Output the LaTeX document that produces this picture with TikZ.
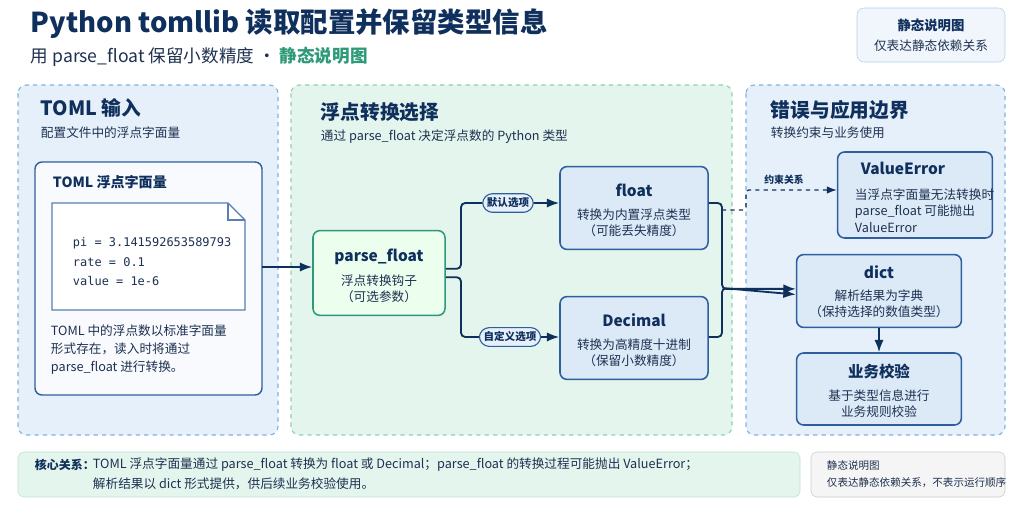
\documentclass[tikz,border=0pt]{standalone}
\usepackage{fontspec}
\setmainfont{Noto Sans CJK SC}
\setmonofont{DejaVu Sans Mono}
\usetikzlibrary{arrows.meta,positioning}
\definecolor{navy}{HTML}{0F2F5C}
\definecolor{edge}{HTML}{2F5E9E}
\definecolor{bluefill}{HTML}{E6F0FA}
\definecolor{greenfill}{HTML}{E4F5EE}
\definecolor{greenedge}{HTML}{2E9A78}
\definecolor{panelblue}{HTML}{7FB2DE}
\definecolor{panelgreen}{HTML}{8FCFB8}
\definecolor{boxfill}{HTML}{DCEAF8}
\definecolor{txt}{HTML}{1E3150}
\tikzset{
  panel/.style={draw, dashed, rounded corners=6pt, line width=0.8pt},
  card/.style={draw=edge, rounded corners=5pt, line width=1.1pt, fill=boxfill},
  head/.style={font=\bfseries\fontsize{11}{13}\selectfont, text=navy},
  body/.style={font=\fontsize{9}{11.5}\selectfont, text=txt, align=center},
  pill/.style={draw=edge, rounded corners=7pt, fill=bluefill, line width=0.8pt,
    font=\bfseries\fontsize{7.5}{9}\selectfont, text=navy, inner sep=3pt},
  link/.style={draw=navy, line width=1.3pt, -Latex, rounded corners=3pt},
}
\begin{document}
\begin{tikzpicture}[x=0.025cm, y=-0.025cm]
		\useasboundingbox (0,0) rectangle (1024,512);
		\fill[white] (0,0) rectangle (1024,512);
		
		% title
		\node[anchor=west, font=\bfseries\fontsize{19.5}{22}\selectfont, text=navy] (title) at (26,24) {Python tomllib 读取配置并保留类型信息};
		\node[anchor=west, font=\fontsize{12.5}{15}\selectfont, text=txt] (subtitle) at (26,57) {用 parse\_float 保留小数精度 · \textcolor{greenedge}{\bfseries 静态说明图}};
		\draw[draw=panelblue!60, fill=bluefill!60, rounded corners=5pt] (857,8) rectangle (1005,62);
		\node[font=\bfseries\fontsize{9.5}{11}\selectfont, text=navy] (note) at (931,25) {静态说明图};
		\node[body] at (931,46) {仅表达静态依赖关系};
		
		% panels
		\draw[panel, draw=panelblue, fill=bluefill] (18,85) rectangle (278,435);
		\draw[panel, draw=panelgreen, fill=greenfill] (291,85) rectangle (732,435);
		\draw[panel, draw=panelblue, fill=bluefill] (746,85) rectangle (1005,435);
		
		\node[anchor=west, font=\bfseries\fontsize{14}{16}\selectfont, text=navy] at (36,108) {TOML 输入};
		\node[anchor=west, body] at (36,133) {配置文件中的浮点字面量};
		\node[anchor=west, font=\bfseries\fontsize{14}{16}\selectfont, text=navy] at (316,112) {浮点转换选择};
		\node[anchor=west, body] at (316,137) {通过 parse\_float 决定浮点数的 Python 类型};
		\node[anchor=west, font=\bfseries\fontsize{14}{16}\selectfont, text=navy] at (766,110) {错误与应用边界};
		\node[anchor=west, body] at (766,133) {转换约束与业务使用};
		
		% input card
		\draw[draw=edge, fill=white!70!bluefill, rounded corners=5pt, line width=1pt] (35,162) rectangle (262,395);
		\coordinate (src) at (262,267);
		\node[anchor=west, head, font=\bfseries\fontsize{10}{12}\selectfont] at (48,182) {TOML 浮点字面量};
		\draw[draw=edge!80, fill=white, line width=0.8pt] (52,203) -- (228,203) -- (245,220) -- (245,310) -- (52,310) -- cycle;
		\draw[draw=edge!80, line width=0.8pt] (228,203) -- (228,220) -- (245,220);
		\node[anchor=west, font=\ttfamily\fontsize{8.5}{10}\selectfont, text=txt] at (68,243) {pi = 3.141592653589793};
		\node[anchor=west, font=\ttfamily\fontsize{8.5}{10}\selectfont, text=txt] at (68,262) {rate = 0.1};
		\node[anchor=west, font=\ttfamily\fontsize{8.5}{10}\selectfont, text=txt] at (68,281) {value = 1e-6};
		\node[anchor=north west, body, align=left, font=\fontsize{9}{12.8}\selectfont] at (46,320) {TOML 中的浮点数以标准字面量\\形式存在，读入时将通过\\parse\_float 进行转换。};
		
		% nodes
		\node[card, draw=greenedge, fill=greenfill!70!green!20, minimum width=3.3cm, minimum height=2.12cm] (hook) at (379,273) {};
		\node[head] at (379,257) {parse\_float};
		\node[body] at (379,289) {浮点转换钩子\\（可选参数）};
		
		\node[card, minimum width=3.7cm, minimum height=2.07cm] (flt) at (634,208) {};
		\node[head] at (634,190) {float};
		\node[body] at (634,223) {转换为内置浮点类型\\（可能丢失精度）};
		\node[card, minimum width=3.7cm, minimum height=2.07cm] (dec) at (634,338) {};
		\node[head] at (634,320) {Decimal};
		\node[body] at (634,353) {转换为高精度十进制\\（保留小数精度）};
		
		\node[card, minimum width=3.87cm, minimum height=2.15cm] (err) at (915,195) {};
		\node[head] at (903,168) {ValueError};
		\node[body, align=left, anchor=north west] at (850,184) {当浮点字面量无法转换时\\parse\_float 可能抛出\\ValueError};
		\node[card, minimum width=4.12cm, minimum height=1.82cm] (res) at (879,291) {};
		\node[head] at (879,272) {dict};
		\node[body] at (879,304) {解析结果为字典\\（保持选择的数值类型）};
		\node[card, minimum width=4.12cm, minimum height=1.8cm] (chk) at (879,389) {};
		\node[head] at (879,372) {业务校验};
		\node[body] at (879,404) {基于类型信息进行\\业务规则校验};
		
		% connectors
		\draw[link] (src) -- (hook.west |- src);
		\node[pill] (dflt) at (508,203) {默认选项};
		\node[pill] (cust) at (510,337) {自定义选项};
		\draw[link, -] ([yshift=3pt]hook.east) -| (461,203) -- (dflt.west);
		\draw[link, -] ([yshift=-3pt]hook.east) -| (461,337) -- (cust.west);
		\draw[link] (dflt) -- (flt.west |- dflt);
		\draw[link] (cust) -- (dec.west |- cust);
		\coordinate (fo) at (722,203);
		\draw[link] (flt.east |- fo) -- (fo) |- ([yshift=1.5pt]res.west);
		\draw[link] (dec.east |- 0,337) -| (722,288) -- ([yshift=-2.5pt]res.west);
		\draw[link, dashed, line width=0.9pt, rounded corners=2pt] (722,210) -- (746,210) -- (746,190) -- (err.west |- 0,190);
		\node[font=\bfseries\fontsize{7}{8}\selectfont, text=navy] at (784,180) {约束关系};
		\draw[link] (res) -- (chk);
		
		% footer
		\draw[draw=panelgreen!60, fill=greenfill, rounded corners=4pt] (18,452) rectangle (800,497);
		\node[anchor=west, font=\bfseries\fontsize{8.5}{10}\selectfont, text=navy] at (30,465) {核心关系：};
		\node[anchor=west, body] at (88,465) {TOML 浮点字面量通过 parse\_float 转换为 float 或 Decimal；parse\_float 的转换过程可能抛出 ValueError；};
		\node[anchor=west, body] at (88,484) {解析结果以 dict 形式提供，供后续业务校验使用。};
		\draw[draw=gray!40, fill=gray!8, rounded corners=4pt] (811,452) rectangle (1005,497);
		\node[anchor=west, body, font=\fontsize{7.5}{9}\selectfont] at (822,466) {静态说明图};
		\node[anchor=west, body, font=\fontsize{7.5}{9}\selectfont] at (822,483) {仅表达静态依赖关系，不表示运行顺序};
	\end{tikzpicture}
\end{document}
